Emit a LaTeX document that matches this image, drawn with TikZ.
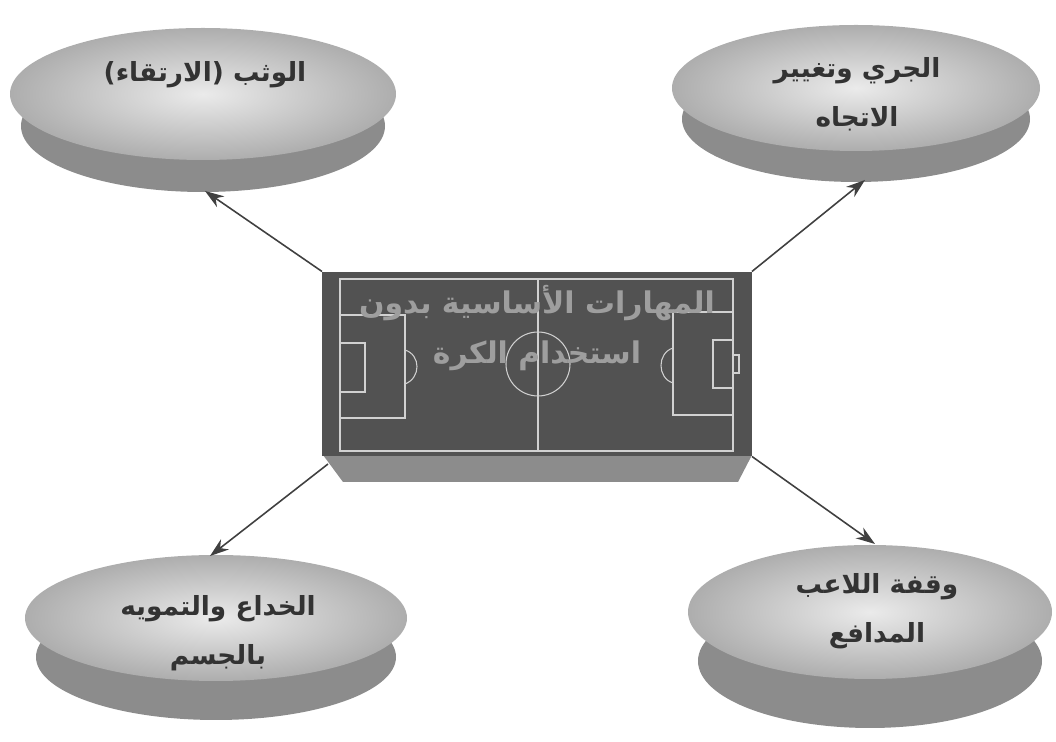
\documentclass[tikz,border=0pt]{standalone}
\usepackage{fontspec}
\newfontfamily\arabicfont[Script=Arabic]{DejaVu Sans}
\TeXXeTstate=1
\usetikzlibrary{arrows.meta}
\begin{document}
\begin{tikzpicture}[x=0.02cm,y=-0.02cm,face/.style={inner color=black!8,outer color=black!32},rim/.style={fill=black!45},disclabel/.style={font=\arabicfont\bfseries\fontsize{15}{28}\selectfont,text=black!80,align=center},pitch/.style={fill=black!68,minimum width=8.6cm,minimum height=3.7cm,inner sep=0pt,outer sep=0pt},pitchlabel/.style={font=\arabicfont\bfseries\fontsize{17}{28}\selectfont,text=black!38,align=center},markline/.style={draw=black!18,line width=0.6pt},link/.style={draw=black!75,line width=0.9pt,-{Stealth[length=0.38cm,width=0.26cm]}}]
\useasboundingbox (0,0) rectangle (1056,742);
\begin{scope}
\fill[rim] (203,126) ellipse [x radius=182,y radius=66]; \shade[face] (203,94) ellipse [x radius=193,y radius=66];
\node[disclabel] (jump) at (205,75) {\beginR الوثب (الارتقاء)\endR}; \coordinate (jump-rim) at (205,191);
\end{scope}
\begin{scope}
\fill[rim] (856,119) ellipse [x radius=174,y radius=63]; \shade[face] (856,88) ellipse [x radius=184,y radius=63];
\node[disclabel] (run) at (857,94) {\beginR الجري وتغيير\endR\\\beginR الاتجاه\endR}; \coordinate (run-rim) at (865,180);
\end{scope}
\begin{scope}
\fill[rim] (216,657) ellipse [x radius=180,y radius=63]; \shade[face] (216,618) ellipse [x radius=191,y radius=63];
\node[disclabel] (feint) at (218,633) {\beginR الخداع والتمويه\endR\\\beginR بالجسم\endR}; \coordinate (feint-top) at (210,556);
\end{scope}
\begin{scope}
\fill[rim] (870,661) ellipse [x radius=172,y radius=67]; \shade[face] (870,612) ellipse [x radius=182,y radius=67];
\node[disclabel] (stance) at (877,611) {\beginR وقفة اللاعب\endR\\\beginR المدافع\endR}; \coordinate (stance-top) at (875,544);
\end{scope}
\begin{scope}
\fill[black!45] (323,455) -- (752,455) -- (738,482) -- (343,482) -- cycle; \node[pitch] (pitch) at (537,364) {}; \coordinate (pitch-base) at (328,464);
\draw[markline] (340,279) rectangle (733,451); \draw[markline] (538,279) -- (538,451); \draw[markline] (538,364) circle [radius=32];
\draw[markline] (340,315) rectangle (405,418); \draw[markline] (340,343) rectangle (365,392); \draw[markline] (405,350) .. controls (421,355) and (421,378) .. (405,384);
\draw[markline] (673,312) rectangle (733,415); \draw[markline] (713,340) rectangle (733,388); \draw[markline] (733,355) rectangle (739,373); \draw[markline] (673,348) .. controls (657,353) and (657,378) .. (673,383);
\node[pitchlabel] (skills) at (537,328) {\beginR المهارات الأساسية بدون\endR\\\beginR استخدام الكرة\endR};
\end{scope}
\draw[link] (pitch.north west) -- (jump-rim); \draw[link] (pitch.north east) -- (run-rim);
\draw[link] (pitch-base) -- (feint-top); \draw[link] (pitch.south east) -- (stance-top);
\end{tikzpicture}
\end{document}
